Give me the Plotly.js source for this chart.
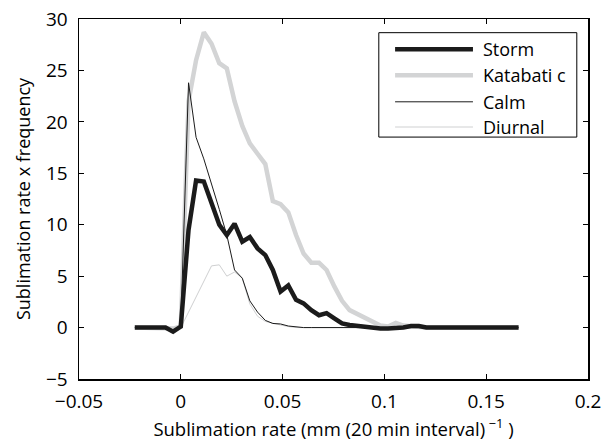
<!DOCTYPE html>
<html>
<head>
<meta charset="utf-8">
<script src="https://cdn.plot.ly/plotly-3.0.1.min.js"></script>
<style>html,body{margin:0;padding:0;background:#fff;}#chart{width:608px;height:445px;}</style>
</head>
<body>
<div id="chart"></div>
<script>
// Sublimation rate bins (mm per 20 min interval)
var rate = [-0.0226, -0.0189, -0.0151, -0.0113, -0.0075, -0.0038, 0, 0.0038, 0.0075, 0.0113,
  0.0151, 0.0189, 0.0226, 0.0264, 0.0302, 0.0339, 0.0377, 0.0415, 0.0452, 0.0490,
  0.0528, 0.0566, 0.0603, 0.0641, 0.0679, 0.0716, 0.0754, 0.0792, 0.0829, 0.0867,
  0.0905, 0.0943, 0.0980, 0.1018, 0.1056, 0.1093, 0.1131, 0.1169, 0.1206, 0.1244,
  0.1282, 0.1320, 0.1357, 0.1395, 0.1433, 0.1470, 0.1508, 0.1546, 0.1583, 0.1621, 0.1659];

var storm = [0, 0, 0, 0, 0, -0.4, 0.1, 9.5, 14.3, 14.2,
  12.1, 10.0, 9.0, 10.1, 8.35, 8.8, 7.7, 7.05, 5.6, 3.5,
  4.1, 2.7, 2.35, 1.7, 1.2, 1.4, 0.9, 0.4, 0.25, 0.15,
  0.0, -0.1, -0.1, -0.1, -0.1, 0.0, 0.15, 0.15, 0, 0,
  0, 0, 0, 0, 0, 0, 0, 0, 0, 0, 0];

var katabatic = [0, 0, 0, 0, 0, -0.1, 0.1, 22.0, 26.0, 28.7,
  27.6, 25.7, 25.2, 22.0, 19.6, 17.9, 16.9, 15.9, 12.3, 12.0,
  11.2, 9.0, 7.2, 6.3, 6.3, 5.6, 4.0, 2.6, 1.7, 1.3,
  1.0, 0.6, 0.2, 0.1, 0.45, 0.2, 0.1, 0, 0, 0,
  0, 0, 0, 0, 0, 0, 0, 0, 0, 0, 0];

var calm = [0, 0, 0, 0, 0, -0.3, 0.2, 23.8, 18.5, 16.4,
  14.0, 11.5, 9.0, 5.6, 4.8, 2.6, 1.5, 0.7, 0.4, 0.35,
  0.15, 0.05, 0, 0, 0, 0, 0, 0, 0, 0,
  0, 0, 0, 0, 0, 0, 0, 0, 0, 0,
  0, 0, 0, 0, 0, 0, 0, 0, 0, 0, 0];

var diurnal = [0, 0, 0, 0, 0, 0, 0, 1.5, 3.0, 4.6,
  6.0, 6.1, 5.0, 5.4, 4.8, 2.3, 1.1, 0.6, 0.4, 0.25,
  0.1, 0, 0, 0, 0, 0, 0, 0, 0, 0,
  0, 0, 0, 0, 0, 0, 0, 0, 0, 0,
  0, 0, 0, 0, 0, 0, 0, 0, 0, 0, 0];

var seriesNames = ['Storm', 'Katabati c', 'Calm', 'Diurnal'];
var xTicks = [-0.05, 0, 0.05, 0.1, 0.15, 0.2];
var xTickText = ['\u22120.05', '0', '0.05', '0.1', '0.15', '0.2'];
var yTicks = [-5, 0, 5, 10, 15, 20, 25, 30];
var yTickText = ['\u22125', '0', '5', '10', '15', '20', '25', '30'];

var FONT = 'Open Sans, Noto Sans, sans-serif';
var styles = [
  {color: '#1b1b1b', width: 4.5},
  {color: '#d3d4d5', width: 4.5},
  {color: '#1b1b1b', width: 1},
  {color: '#cfd0d1', width: 1}
];
var ys = [storm, katabatic, calm, diurnal];
// draw order: katabatic under, then diurnal, calm, storm
var order = [1, 3, 0, 2];
var traces = order.map(function (i) {
  return {x: rate, y: ys[i], type: 'scatter', mode: 'lines', name: seriesNames[i],
    line: {color: styles[i].color, width: styles[i].width}, showlegend: false, hoverinfo: 'skip'};
});

// manual legend
var lgX0 = 0.589, lgX1 = 0.978, lgY0 = 0.672, lgY1 = 0.962;
var rowY = [0.916, 0.844, 0.770, 0.700];
var shapes = [{type: 'rect', xref: 'paper', yref: 'paper', x0: lgX0, x1: lgX1, y0: lgY0, y1: lgY1,
  line: {color: '#000', width: 1}, fillcolor: '#fff', layer: 'above'}];
var annotations = [];
for (var i = 0; i < 4; i++) {
  shapes.push({type: 'line', xref: 'paper', yref: 'paper', x0: 0.621, x1: 0.774, y0: rowY[i], y1: rowY[i],
    line: {color: styles[i].color, width: styles[i].width}, layer: 'above'});
  annotations.push({xref: 'paper', yref: 'paper', x: 0.790, y: rowY[i], xanchor: 'left', yanchor: 'middle',
    text: seriesNames[i], showarrow: false, font: {family: FONT, size: 18, color: '#000'}});
}

var layout = {
  width: 608, height: 445,
  margin: {l: 79, r: 20, t: 19, b: 66, pad: 0},
  paper_bgcolor: '#fff', plot_bgcolor: '#fff',
  font: {family: FONT, size: 18, color: '#000'},
  showlegend: false,
  xaxis: {
    range: [-0.05, 0.2], tickvals: xTicks, ticktext: xTickText,
    ticks: 'inside', ticklen: 5, tickwidth: 1, tickcolor: '#000',
    showline: true, linecolor: '#000', linewidth: 1.5, mirror: 'ticks',
    showgrid: false, zeroline: false, ticklabelstandoff: 5,
    tickfont: {family: FONT, size: 19, color: '#000'},
    title: {text: 'Sublimation rate (mm (20 min interval)<sup> \u22121</sup> )', font: {family: FONT, size: 18.5, color: '#000'}, standoff: 3}
  },
  yaxis: {
    range: [-5, 30], tickvals: yTicks, ticktext: yTickText,
    ticks: 'inside', ticklen: 5, tickwidth: 1, tickcolor: '#000',
    showline: true, linecolor: '#000', linewidth: 1.5, mirror: 'ticks',
    showgrid: false, zeroline: false, ticklabelstandoff: 6,
    tickfont: {family: FONT, size: 19, color: '#000'},
    title: {text: 'Sublimation rate x frequency', font: {family: FONT, size: 18, color: '#000'}, standoff: 10}
  },
  shapes: shapes,
  annotations: annotations
};

Plotly.newPlot('chart', traces, layout, {staticPlot: true, displayModeBar: false});
</script>
</body>
</html>
